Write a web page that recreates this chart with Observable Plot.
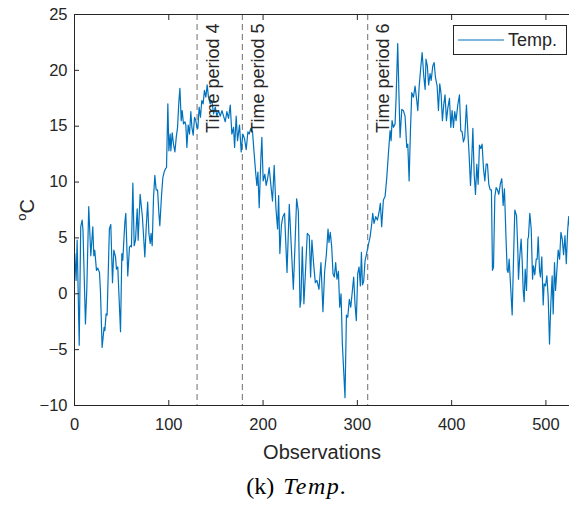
<!DOCTYPE html>
<html><head><meta charset="utf-8">
<script src="https://cdn.jsdelivr.net/npm/d3@7"></script>
<script src="https://cdn.jsdelivr.net/npm/@observablehq/plot@0.6"></script>
<style>
body{margin:0;background:#fff;}
#caption{width:569px;height:52px;box-sizing:border-box;padding-left:25px;text-align:center;font-family:"Liberation Serif","DejaVu Serif",serif;font-size:24px;color:#000;line-height:42px;word-spacing:3px;}
#caption i{letter-spacing:1.5px;}
</style></head><body>
<div id="chart"></div>
<div id="caption">(k) <i>Temp.</i></div>
<script>
const obs = [0.3,1.7,2.8,5.0,6.6,8.1,9.0,11.6,13.0,15.1,17.3,19.4,20.5,21.5,23.3,24.7,26.5,27.5,29.3,31.4,32.2,33.5,34.6,37.0,38.5,40.3,41.7,43.5,44.5,45.9,48.8,50.2,51.2,53.4,54.4,56.5,58.3,59.7,60.4,61.9,63.3,64.7,66.5,67.5,69.6,72.0,74.6,75.9,77.6,78.9,80.3,81.2,82.4,83.8,85.2,86.6,88.1,89.5,90.5,92.3,93.7,95.1,96.5,97.6,99.0,100.1,101.5,102.2,103.6,105.0,106.5,107.9,109.3,110.7,111.8,113.2,114.2,115.6,117.1,118.1,119.2,120.6,122.0,123.4,124.5,125.9,127.3,128.7,129.8,130.8,132.2,133.6,135.0,136.4,137.8,139.3,140.7,142.1,143.9,145.7,147.5,149.3,151.0,152.8,154.6,156.4,158.1,159.9,161.6,163.4,165.2,166.9,168.7,169.8,171.5,172.9,175.0,176.8,178.5,180.3,182.1,183.9,185.3,187.0,188.8,190.6,192.3,193.4,194.5,195.9,197.7,198.7,200.1,201.9,203.3,204.8,206.5,208.3,210.0,211.8,213.6,215.4,216.5,217.8,219.5,221.0,222.8,225.4,227.8,232.1,233.8,235.6,237.4,239.2,240.2,241.6,243.3,245.1,246.9,249.0,250.4,251.8,253.6,255.4,257.1,259.3,261.4,263.5,265.3,267.1,268.9,269.9,271.3,272.8,274.2,275.6,277.0,278.4,279.9,281.3,282.7,284.1,285.5,286.9,288.4,289.8,291.5,293.0,294.4,296.1,297.5,298.9,300.4,301.8,303.2,304.3,305.4,306.7,308.2,309.6,311.5,313.5,315.3,316.3,317.7,319.5,321.3,323.0,324.4,325.8,327.6,329.4,331.2,332.9,334.7,335.8,336.8,338.3,340.0,341.1,342.8,344.2,345.3,347.1,348.8,350.6,352.4,353.5,354.9,356.3,357.7,359.5,361.2,363.0,364.1,365.5,367.3,368.7,370.5,371.9,372.8,374.2,375.6,377.1,378.3,380.0,381.4,382.8,384.6,386.0,387.4,388.8,390.2,391.6,393.0,394.5,395.9,397.7,399.1,400.5,401.9,403.3,404.7,406.5,408.3,409.7,411.1,412.5,413.9,415.7,417.1,418.5,420.0,421.4,422.5,423.9,425.3,426.7,428.1,429.5,430.9,432.3,433.8,435.2,436.6,438.0,439.4,440.9,442.2,443.3,444.4,445.8,447.2,448.6,450.0,451.8,453.2,454.6,456.0,457.5,458.9,459.9,461.0,462.4,464.2,465.6,467.0,468.8,470.2,470.9,472.0,473.7,474.8,475.9,476.9,478.0,479.4,480.8,481.5,482.9,484.4,485.8,486.8,488.2,489.7,490.7,491.8,493.2,494.2,495.6,497.1,498.1,499.5,501.0,502.4,503.8,505.2,506.6,507.7,509.1,510.2,511.6,513.0,514.5,515.9,517.3,518.7,520.2,521.6,523.0,524.1,525.0];
const temp = [3.6,1.2,4.8,-4.6,6.0,6.6,5.7,-2.7,0.3,7.8,3.4,6.0,3.4,3.9,2.1,2.3,1.9,0.3,-4.8,-3.0,-3.3,-1.8,-1.9,5.8,6.2,1.0,3.9,3.3,2.2,2.4,-3.4,3.6,3.0,6.4,7.2,1.6,4.2,4.3,4.2,9.9,4.3,4.8,7.6,4.8,8.9,6.9,3.3,5.7,8.2,5.4,4.5,5.4,4.3,8.6,10.6,9.3,9.3,7.2,6.1,8.8,10.4,10.9,11.2,11.3,17.0,12.8,14.3,12.8,14.4,13.4,12.7,14.0,14.9,17.2,18.4,15.5,16.4,15.2,15.4,15.1,13.1,15.1,14.3,16.3,14.9,14.2,15.8,15.5,14.9,14.8,16.7,15.8,17.3,17.0,18.2,17.6,18.7,17.6,17.0,17.3,16.1,16.7,15.9,16.4,15.9,16.4,15.9,15.4,16.3,15.7,16.9,14.3,14.9,13.1,15.9,13.7,15.1,12.7,14.3,13.9,12.9,14.5,14.3,14.8,14.5,12.5,10.7,9.7,10.9,7.7,12.2,14.0,10.1,10.7,9.7,10.3,11.3,9.7,8.3,11.5,7.7,5.8,8.8,3.6,6.2,6.9,7.2,1.9,8.0,0.4,4.2,8.5,7.4,-1.2,-0.5,4.2,-0.9,2.2,5.4,5.2,1.5,4.8,2.7,1.0,1.2,0.4,2.8,-1.6,2.0,3.5,5.8,4.6,5.5,4.2,1.8,1.5,2.8,1.3,2.0,-1.2,0.0,-4.5,-6.9,-9.3,-1.9,-2.1,-0.5,-1.2,0.0,1.5,-0.9,-2.4,1.8,2.4,0.7,3.7,0.8,1.1,3.0,3.5,4.3,5.1,6.3,7.2,6.3,6.9,6.6,7.3,8.1,6.0,8.4,8.7,10.4,12.5,14.6,13.7,15.5,14.9,15.2,17.6,22.4,17.6,14.0,16.5,16.4,15.9,13.1,13.4,10.1,14.6,18.0,17.6,18.6,17.3,16.4,18.5,20.3,21.6,19.4,18.3,21.0,20.4,18.7,19.7,19.1,20.4,20.7,19.4,18.6,16.4,18.8,17.9,15.5,16.9,17.8,15.5,16.6,17.5,14.9,16.4,14.9,16.3,15.5,16.9,17.8,14.6,14.5,13.6,14.0,16.9,14.6,12.5,9.7,12.2,14.8,10.7,8.9,11.6,9.8,13.3,13.0,13.4,11.2,10.1,11.6,11.6,9.8,9.3,9.3,2.1,2.4,8.7,9.5,9.3,8.9,9.9,10.3,7.9,9.4,5.4,2.1,1.9,3.1,0.9,-1.9,3.0,7.5,7.0,3.9,1.3,3.0,4.9,3.0,0.3,-0.7,2.2,0.3,4.9,5.1,7.2,5.8,1.3,2.5,1.7,3.1,3.1,5.1,2.1,1.5,3.3,-1.0,0.9,0.7,1.6,-0.3,-4.5,-0.9,1.6,-1.8,2.8,0.3,2.1,3.9,3.1,5.5,4.9,3.5,5.2,2.7,5.6,6.9,6.1];
const periodX = [130, 178, 311];
const periodLabels = ["Time period 4", "Time period 5", "Time period 6"];
const xTicks = [0, 100, 200, 300, 400, 500];
const yTicks = [-10, -5, 0, 5, 10, 15, 20, 25];
const xLabel = "Observations";
const seriesName = "Temp.";

const data = obs.map((o, i) => ({obs: o, temp: temp[i]}));
const labels = periodX.map((x, i) => ({x, text: periodLabels[i]}));
const ink = "#262626";
const blue = "#0072BD";

const chart = Plot.plot({
  width: 569, height: 465,
  marginLeft: 74, marginRight: 0, marginTop: 14, marginBottom: 60,
  x: {domain: [0, 525]},
  y: {domain: [-10, 25]},
  style: {fontFamily: "'Liberation Sans', Arial, sans-serif", fontSize: "16px", color: ink, background: "#fff", overflow: "visible"},
  marks: [
    Plot.ruleX(periodX, {stroke: "#6e6e6e", strokeDasharray: "6,4", strokeWidth: 1}),
    Plot.line(data, {x: "obs", y: "temp", stroke: blue, strokeWidth: 1.2, clip: true}),
    Plot.text(labels, {x: "x", y: 14.4, text: "text", rotate: -90, textAnchor: "start", dx: 16, fontSize: 18, fill: ink}),
    Plot.frame({stroke: ink, strokeWidth: 1}),
    Plot.axisX({ticks: xTicks, tickSize: -5, tickPadding: 18, label: null, fontSize: 16.5, stroke: ink}),
    Plot.axisX({anchor: "top", ticks: xTicks, tickSize: -5, tickFormat: () => "", label: null, stroke: ink}),
    Plot.axisY({ticks: yTicks, tickSize: -5, tickPadding: 12, label: null, fontSize: 16.5, stroke: ink}),
    Plot.text([xLabel], {frameAnchor: "bottom", text: d => d, dy: 53, fontSize: 20, fill: ink})
  ]
});
document.getElementById("chart").appendChild(chart);

const svg = d3.select(chart);
// y label: superscript o + C
const yl = svg.append("text")
  .attr("transform", "translate(34,210) rotate(-90)")
  .attr("text-anchor", "middle")
  .attr("fill", ink)
  .style("font-size", "20px");
yl.append("tspan").text("o").attr("font-size", "13px").attr("dy", "-8");
yl.append("tspan").text("C").attr("dy", "8");

// legend
const lg = svg.append("g");
lg.append("rect").attr("x", 453.5).attr("y", 25.5).attr("width", 113).attr("height", 29)
  .attr("fill", "#fff").attr("stroke", ink).attr("stroke-width", 1);
lg.append("line").attr("x1", 458).attr("x2", 504).attr("y1", 40).attr("y2", 40)
  .attr("stroke", blue).attr("stroke-width", 1.2);
lg.append("text").attr("x", 508).attr("y", 40).attr("dy", "0.35em")
  .attr("text-anchor", "start")
  .attr("fill", ink).style("font-size", "18px").text(seriesName);
</script>
</body></html>
